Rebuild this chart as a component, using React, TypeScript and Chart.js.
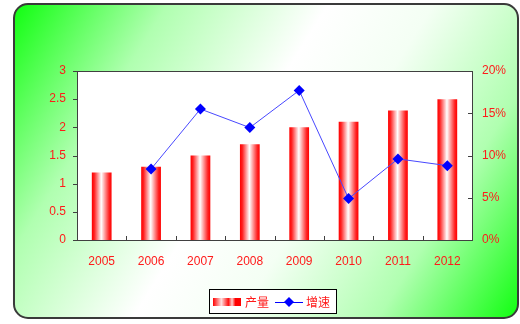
import React, { useEffect, useRef } from "react";
import { Chart, registerables } from "chart.js";

Chart.register(...registerables);

const years = ["2005", "2006", "2007", "2008", "2009", "2010", "2011", "2012"];
const output = [1.2, 1.3, 1.5, 1.7, 2.0, 2.1, 2.3, 2.5];
const growth = [null, 8.4, 15.5, 13.3, 17.7, 4.9, 9.6, 8.8];
const leftTicks = [0, 0.5, 1, 1.5, 2, 2.5, 3];
const rightTicks = [0, 5, 10, 15, 20];
const seriesNames = ["产量", "增速"];

const RED = "#ff1a1a";
const BLUE = "#0000ff";
const FONT = "'Liberation Sans', Arial, sans-serif";
const CJK = "'Noto Sans CJK SC', 'Liberation Sans', sans-serif";

function redWhite(ctx: CanvasRenderingContext2D, x0: number, x1: number) {
  const g = ctx.createLinearGradient(x0, 0, x1, 0);
  g.addColorStop(0, "#ff0000");
  g.addColorStop(0.12, "#ff2020");
  g.addColorStop(0.48, "#ffffff");
  g.addColorStop(0.88, "#ff2020");
  g.addColorStop(1, "#ff0000");
  return g;
}

function legendSwatch(ctx: CanvasRenderingContext2D, x0: number, x1: number) {
  const g = ctx.createLinearGradient(x0, 0, x1, 0);
  g.addColorStop(0, "#ff0000");
  g.addColorStop(0.3, "#ffe0e0");
  g.addColorStop(0.55, "#ff1010");
  g.addColorStop(0.68, "#ffd0d0");
  g.addColorStop(0.8, "#ff0000");
  g.addColorStop(1, "#ff0000");
  return g;
}

const decorPlugin = {
  id: "decor",
  beforeDraw(chart: any) {
    const ctx = chart.ctx as CanvasRenderingContext2D;
    const W = chart.width, H = chart.height;
    ctx.save();
    ctx.fillStyle = "#ffffff";
    ctx.fillRect(0, 0, W, H);
    const fx = 14, fy = 4, fw = 504, fh = 314, r = 14;
    const g = ctx.createLinearGradient(fx, fy, fx + fw, fy + fh);
    g.addColorStop(0, "#10ff10");
    g.addColorStop(0.22, "#b0ffb0");
    g.addColorStop(0.45, "#ffffff");
    g.addColorStop(0.6, "#f4fff4");
    g.addColorStop(0.8, "#b0ffb0");
    g.addColorStop(1, "#10ff10");
    ctx.beginPath();
    ctx.roundRect(fx, fy, fw, fh, r);
    ctx.fillStyle = g;
    ctx.fill();
    ctx.lineWidth = 2;
    ctx.strokeStyle = "#3a3a3a";
    ctx.stroke();
    const a = chart.chartArea;
    ctx.fillStyle = "#ffffff";
    ctx.fillRect(a.left, a.top, a.right - a.left, a.bottom - a.top);
    ctx.restore();
  },
  afterDraw(chart: any) {
    const ctx = chart.ctx as CanvasRenderingContext2D;
    const a = chart.chartArea;
    const xs = chart.scales.x, ys = chart.scales.y, y1 = chart.scales.y1;
    ctx.save();
    ctx.lineWidth = 1;
    ctx.strokeStyle = "#404040";
    ctx.strokeRect(Math.round(a.left) + 0.5, Math.round(a.top) + 0.5, Math.round(a.right - a.left), Math.round(a.bottom - a.top));
    ctx.beginPath();
    leftTicks.forEach((v) => {
      const y = Math.round(ys.getPixelForValue(v)) + 0.5;
      ctx.moveTo(a.left - 4, y);
      ctx.lineTo(a.left, y);
    });
    rightTicks.forEach((v) => {
      const y = Math.round(y1.getPixelForValue(v)) + 0.5;
      ctx.moveTo(a.right - 4, y);
      ctx.lineTo(a.right, y);
    });
    const step = (a.right - a.left) / years.length;
    for (let i = 1; i < years.length; i++) {
      const x = Math.round(xs.getPixelForValue(i) - step / 2) + 0.5;
      ctx.moveTo(x, a.bottom - 4);
      ctx.lineTo(x, a.bottom);
    }
    ctx.stroke();

    // legend
    const bx = 209, by = 289, bw = 127, bh = 24;
    ctx.fillStyle = "#ffffff";
    ctx.fillRect(bx, by, bw, bh);
    ctx.strokeStyle = "#000000";
    ctx.strokeRect(bx + 0.5, by + 0.5, bw, bh);
    const cy = by + bh / 2 + 1;
    ctx.fillStyle = legendSwatch(ctx, 213, 241);
    ctx.fillRect(213, cy - 4, 28, 8);
    ctx.font = "12px " + CJK;
    ctx.textBaseline = "middle";
    ctx.fillStyle = RED;
    ctx.fillText(seriesNames[0], 245, cy);
    ctx.strokeStyle = BLUE;
    ctx.beginPath();
    ctx.moveTo(275, cy + 0.5);
    ctx.lineTo(303, cy + 0.5);
    ctx.stroke();
    ctx.fillStyle = BLUE;
    ctx.beginPath();
    ctx.moveTo(289, cy - 5);
    ctx.lineTo(294, cy);
    ctx.lineTo(289, cy + 5);
    ctx.lineTo(284, cy);
    ctx.closePath();
    ctx.fill();
    ctx.fillStyle = RED;
    ctx.fillText(seriesNames[1], 306, cy);
    ctx.restore();
  },
};

export default function App() {
  const ref = useRef<HTMLCanvasElement | null>(null);
  useEffect(() => {
    if (!ref.current) return;
    const chart = new Chart(ref.current, {
      type: "bar",
      data: {
        labels: years,
        datasets: [
          {
            type: "bar",
            label: seriesNames[0],
            data: output,
            yAxisID: "y",
            order: 2,
            barPercentage: 0.4,
            categoryPercentage: 1,
            borderWidth: 0,
            backgroundColor: (c: any) => {
              const ch = c.chart;
              const xs = ch.scales && ch.scales.x;
              if (!xs || c.dataIndex === undefined) return "#ff0000";
              const cx = xs.getPixelForValue(c.dataIndex);
              const w = (xs.width / years.length) * 0.4;
              if (!isFinite(cx) || !isFinite(w) || w <= 0) return "#ff0000";
              return redWhite(ch.ctx, cx - w / 2, cx + w / 2);
            },
          } as any,
          {
            type: "line",
            label: seriesNames[1],
            data: growth,
            yAxisID: "y1",
            order: 1,
            borderColor: "#4848ff",
            borderWidth: 1,
            pointStyle: "rectRot",
            pointRadius: 5.5,
            pointBackgroundColor: BLUE,
            pointBorderColor: BLUE,
            pointBorderWidth: 0,
            tension: 0,
            spanGaps: false,
          } as any,
        ],
      },
      options: {
        animation: false,
        responsive: false,
        devicePixelRatio: 1,
        layout: { padding: { top: 71, left: 0, right: 0, bottom: 0 } },
        plugins: { legend: { display: false }, tooltip: { enabled: false } },
        scales: {
          x: {
            type: "category",
            offset: true,
            grid: { display: false, drawTicks: false },
            border: { display: false },
            ticks: { color: RED, font: { size: 12, family: FONT }, padding: 14, maxRotation: 0 },
            afterFit: (s: any) => { s.height = 84; },
          },
          y: {
            type: "linear",
            position: "left",
            min: 0,
            max: 3,
            grid: { display: false, drawTicks: false },
            border: { display: false },
            ticks: {
              stepSize: 0.5,
              color: RED,
              font: { size: 12, family: FONT },
              padding: 11,
              callback: (v: any) => String(Number(v)),
            },
            afterFit: (s: any) => { s.width = 77; },
          },
          y1: {
            type: "linear",
            position: "right",
            min: 0,
            max: 20,
            grid: { display: false, drawTicks: false },
            border: { display: false },
            ticks: {
              stepSize: 5,
              color: RED,
              font: { size: 12, family: FONT },
              padding: 10,
              callback: (v: any) => v + "%",
            },
            afterFit: (s: any) => { s.width = 48; },
          },
        },
      },
      plugins: [decorPlugin],
    });
    return () => chart.destroy();
  }, []);
  return (
    <div style={{ position: "absolute", left: 0, top: 0, width: 520, height: 324 }}>
      <canvas ref={ref} width={520} height={324} style={{ display: "block", width: 520, height: 324 }} />
    </div>
  );
}
